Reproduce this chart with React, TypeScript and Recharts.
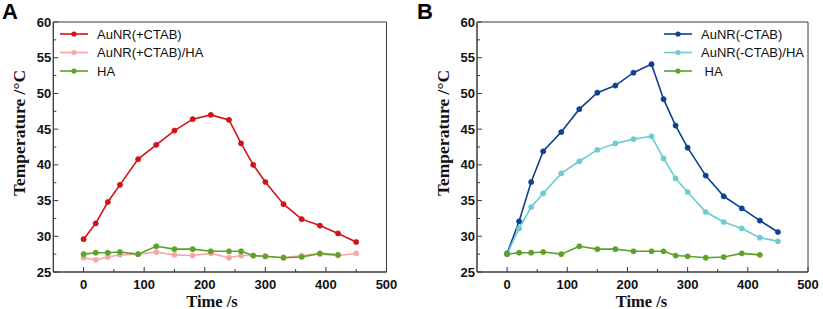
import React from 'react';
import { LineChart, Line, XAxis, YAxis, Legend, ReferenceArea } from 'recharts';

// ---- data ----
const timeSec = [0, 20, 40, 60, 90, 120, 150, 180, 210, 240, 260, 280, 300, 330, 360, 390, 420, 450];
const aunrPlusCtab = [29.6, 31.8, 34.8, 37.2, 40.8, 42.8, 44.8, 46.4, 47.0, 46.3, 43.0, 40.0, 37.6, 34.5, 32.4, 31.5, 30.4, 29.2];
const aunrPlusCtabHa = [27.0, 26.7, 27.1, 27.4, 27.5, 27.8, 27.4, 27.3, 27.6, 27.0, 27.3, 27.3, 27.2, 27.0, 27.3, 27.5, 27.3, 27.6];
const haOnly: (number | null)[] = [27.5, 27.7, 27.7, 27.8, 27.5, 28.6, 28.2, 28.2, 27.9, 27.9, 27.9, 27.3, 27.2, 27.0, 27.1, 27.6, 27.4, null];
const aunrMinusCtab = [27.6, 32.1, 37.6, 41.9, 44.6, 47.8, 50.1, 51.1, 52.9, 54.1, 49.2, 45.5, 42.4, 38.5, 35.6, 33.9, 32.2, 30.6];
const aunrMinusCtabHa = [27.5, 31.1, 34.1, 36.0, 38.8, 40.5, 42.1, 43.0, 43.6, 44.0, 40.9, 38.1, 36.2, 33.4, 32.0, 31.1, 29.8, 29.3];

const xTicks = [0, 50, 100, 150, 200, 250, 300, 350, 400, 450, 500];
const yTicks = [25, 27.5, 30, 32.5, 35, 37.5, 40, 42.5, 45, 47.5, 50, 52.5, 55, 57.5, 60];

const dataA = timeSec.map((t, i) => ({ t, red: aunrPlusCtab[i], pink: aunrPlusCtabHa[i], green: haOnly[i] }));
const dataB = timeSec.map((t, i) => ({ t, blue: aunrMinusCtab[i], cyan: aunrMinusCtabHa[i], green: haOnly[i] }));

const seriesA = [
  { key: 'red', name: 'AuNR(+CTAB)', color: '#D0121B' },
  { key: 'pink', name: 'AuNR(+CTAB)/HA', color: '#F7A6A6' },
  { key: 'green', name: 'HA', color: '#5AA328' },
];
const seriesB = [
  { key: 'blue', name: 'AuNR(-CTAB)', color: '#0E4190' },
  { key: 'cyan', name: 'AuNR(-CTAB)/HA', color: '#6CCCCF' },
  { key: 'green', name: ' HA', color: '#5AA328' },
];

const AXIS = '#3a3a3a';
const SANS = '"Liberation Sans", Arial, Helvetica, sans-serif';
const SERIF = '"Liberation Serif", "Times New Roman", serif';

const XTick = (props: any) => {
  const { x, y, payload } = props;
  const v = payload.value;
  const major = v % 100 === 0;
  const axisY = y;
  return (
    <g>
      <line x1={x} x2={x} y1={axisY} y2={axisY - (major ? 5 : 3)} stroke={AXIS} strokeWidth={1} />
      {major && (
        <text x={x} y={axisY + 16.5} textAnchor="middle" fontFamily={SANS} fontWeight={700} fontSize={13} fill="#111">
          {v}
        </text>
      )}
    </g>
  );
};

const YTick = (props: any) => {
  const { x, y, payload } = props;
  const v = payload.value;
  const major = v % 5 === 0;
  const axisX = x;
  return (
    <g>
      <line x1={axisX} x2={axisX + (major ? 5 : 3)} y1={y} y2={y} stroke={AXIS} strokeWidth={1} />
      {major && (
        <text x={axisX - 2} y={y + 4.6} textAnchor="end" fontFamily={SANS} fontWeight={700} fontSize={13} fill="#111">
          {v}
        </text>
      )}
    </g>
  );
};

const makeLegend = (series: { key: string; name: string; color: string }[]) => () => (
  <svg width={170} height={60} style={{ display: 'block', overflow: 'visible' }}>
    {series.map((s, i) => {
      const cy = 9 + i * 18.5;
      return (
        <g key={s.key}>
          <line x1={0} x2={28} y1={cy} y2={cy} stroke={s.color} strokeWidth={1.6} />
          <circle cx={14} cy={cy} r={2.6} fill={s.color} />
          <text x={37} y={cy + 4.6} fontFamily={SANS} fontSize={13} fill="#111" style={{ whiteSpace: 'pre' }}>
            {s.name}
          </text>
        </g>
      );
    })}
  </svg>
);

type PanelProps = {
  data: any[];
  series: { key: string; name: string; color: string }[];
  width: number;
  marginLeft: number;
  marginRight: number;
  legendLeft: number;
};

const Panel = ({ data, series, width, marginLeft, marginRight, legendLeft }: PanelProps) => (
  <LineChart width={width} height={309} data={data} margin={{ top: 22, right: marginRight, left: marginLeft, bottom: 0 }}>
    <XAxis
      dataKey="t"
      type="number"
      domain={[-50, 500]}
      ticks={xTicks}
      interval={0}
      height={37}
      tickSize={0}
      tickMargin={0}
      tickLine={false}
      axisLine={{ stroke: AXIS }}
      tick={(p: any) => <XTick {...p} />}
      allowDataOverflow
    />
    <YAxis
      type="number"
      domain={[25, 60]}
      ticks={yTicks}
      interval={0}
      width={40}
      tickSize={0}
      tickMargin={0}
      tickLine={false}
      axisLine={{ stroke: AXIS }}
      tick={(p: any) => <YTick {...p} />}
      allowDataOverflow
    />
    <ReferenceArea x1={-50} x2={500} y1={25} y2={60} fill="none" fillOpacity={0} stroke={AXIS} strokeWidth={1} ifOverflow="visible" />
    <Legend
      layout="vertical"
      align="center"
      verticalAlign="middle"
      content={makeLegend(series)}
      wrapperStyle={{ left: legendLeft, top: 25, width: 170, height: 60 }}
    />
    {series.map((s) => (
      <Line
        key={s.key}
        dataKey={s.key}
        name={s.name}
        type="linear"
        stroke={s.color}
        strokeWidth={1.6}
        dot={{ r: 2.6, fill: s.color, stroke: s.color, strokeWidth: 0.6 }}
        activeDot={false}
        isAnimationActive={false}
      />
    ))}
  </LineChart>
);

export default function App() {
  return (
    <div style={{ position: 'absolute', left: 0, top: 0, width: 823, height: 309, background: '#fff', overflow: 'hidden' }}>
      <div style={{ position: 'absolute', left: 0, top: 0 }}>
        <Panel data={dataA} series={seriesA} width={412} marginLeft={13.3} marginRight={25.5} legendLeft={60} />
      </div>
      <div style={{ position: 'absolute', left: 412, top: 0 }}>
        <Panel data={dataB} series={seriesB} width={411} marginLeft={25} marginRight={15} legendLeft={252} />
      </div>
      <svg width={823} height={309} style={{ position: 'absolute', left: 0, top: 0, pointerEvents: 'none' }}>
        <text x={2} y={19} fontFamily={SANS} fontWeight={700} fontSize={22} fill="#000">A</text>
        <text x={417} y={19} fontFamily={SANS} fontWeight={700} fontSize={22} fill="#000">B</text>
        <text x={212} y={306.5} textAnchor="middle" fontFamily={SERIF} fontWeight={700} fontSize={16.5} fill="#111">Time /s</text>
        <text x={641.5} y={306.5} textAnchor="middle" fontFamily={SERIF} fontWeight={700} fontSize={16.5} fill="#111">Time /s</text>
        <text transform="translate(24.5,133) rotate(-90)" textAnchor="middle" fontFamily={SERIF} fontWeight={700} fontSize={17.5} fill="#111">Temperature /°C</text>
        <text transform="translate(448.5,133) rotate(-90)" textAnchor="middle" fontFamily={SERIF} fontWeight={700} fontSize={17.5} fill="#111">Temperature /°C</text>
      </svg>
    </div>
  );
}
